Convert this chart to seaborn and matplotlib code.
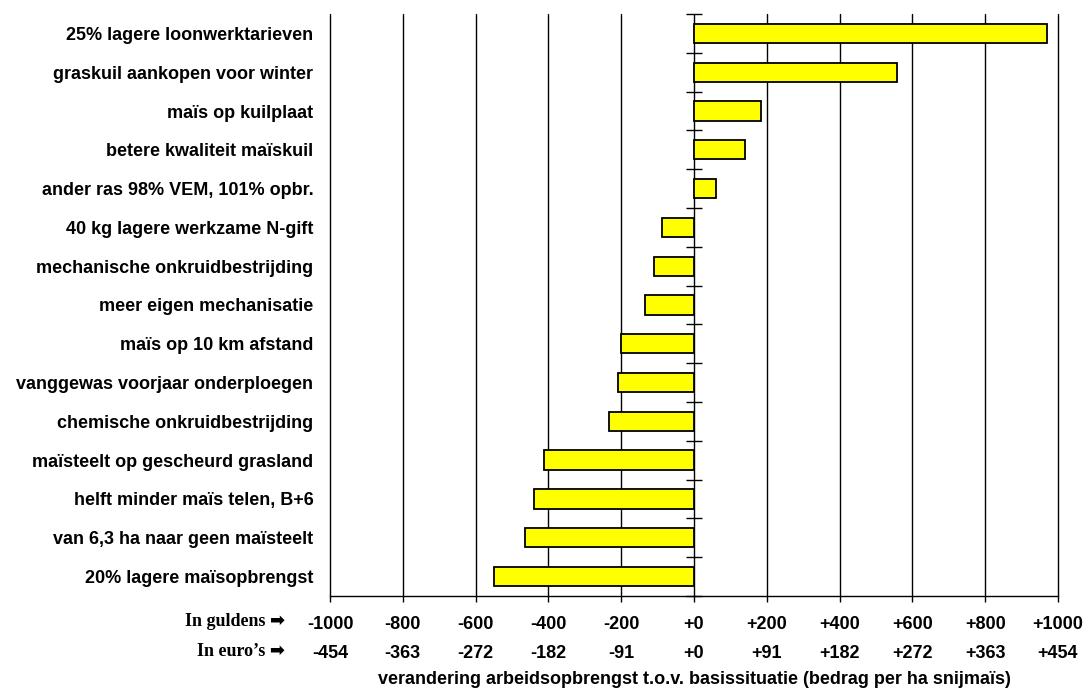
import numpy as np
import pandas as pd
import matplotlib
matplotlib.use("Agg")
import matplotlib.pyplot as plt
import seaborn as sns

# Scenario labels (top to bottom) and change in labour income, guilders per ha silage maize
categories = [
    "25% lagere loonwerktarieven",
    "graskuil aankopen voor winter",
    "maïs op kuilplaat",
    "betere kwaliteit maïskuil",
    "ander ras 98% VEM, 101% opbr.",
    "40 kg lagere werkzame N-gift",
    "mechanische onkruidbestrijding",
    "meer eigen mechanisatie",
    "maïs op 10 km afstand",
    "vanggewas voorjaar onderploegen",
    "chemische onkruidbestrijding",
    "maïsteelt op gescheurd grasland",
    "helft minder maïs telen, B+6",
    "van 6,3 ha naar geen maïsteelt",
    "20% lagere maïsopbrengst",
]
values = [970, 558, 184, 140, 60, -89, -109, -135, -200, -208, -234, -411, -440, -464, -549]

# Axis ticks: guilders with the euro equivalent underneath
guilder_ticks = [-1000, -800, -600, -400, -200, 0, 200, 400, 600, 800, 1000]
guilder_labels = ["-1000", "-800", "-600", "-400", "-200", "+0", "+200", "+400", "+600", "+800", "+1000"]
euro_labels = ["-454", "-363", "-272", "-182", "-91", "+0", "+91", "+182", "+272", "+363", "+454"]

df = pd.DataFrame({"scenario": categories, "verschil": values})

sns.set_theme(style="white")
plt.rcParams["font.family"] = ["Liberation Sans", "DejaVu Sans"]
plt.rcParams["text.color"] = "black"
plt.rcParams["xtick.color"] = "black"
plt.rcParams["ytick.color"] = "black"
plt.rcParams["axes.labelcolor"] = "black"

FS = 13

fig = plt.figure(figsize=(10.84, 6.95), dpi=100)
ax = fig.add_axes([330 / 1084, 1 - 596 / 695, (1058 - 330) / 1084, (596 - 14) / 695])

sns.barplot(data=df, x="verschil", y="scenario", orient="h", color="#FFFF00",
            saturation=1, width=0.5, edgecolor="black", linewidth=1.3, ax=ax, zorder=3)

ax.set_xlim(-1000, 1000)
ax.set_ylim(len(categories) - 0.5, -0.5)

# Vertical grid lines
ax.set_xticks(guilder_ticks)
ax.xaxis.grid(True, color="black", linewidth=1.0)
ax.yaxis.grid(False)
ax.set_axisbelow(True)
for gl in ax.get_xgridlines():
    gl.set_clip_on(False)

for side in ["top", "right", "left"]:
    ax.spines[side].set_visible(False)
ax.spines["bottom"].set_color("black")
ax.spines["bottom"].set_linewidth(1.0)

# Two-row tick labels: guilders above, euros below
ax.set_xticklabels([f"{g}\n{e}" for g, e in zip(guilder_labels, euro_labels)],
                   fontsize=FS, fontweight="bold", color="black")
for lab in ax.get_xticklabels():
    lab.set_linespacing(1.95)
ax.tick_params(axis="x", bottom=True, direction="out", length=4, width=1.0,
               color="black", pad=10.5)

ax.set_ylabel("")
ax.tick_params(axis="y", left=False, length=0, pad=12)
for lab in ax.get_yticklabels():
    lab.set_fontsize(FS)
    lab.set_fontweight("bold")
    lab.set_color("black")

ax.set_xlabel("verandering arbeidsopbrengst t.o.v. basissituatie (bedrag per ha snijmaïs)",
              fontsize=FS, fontweight="bold", labelpad=6, color="black")

# Zero axis with tick marks between the scenarios
zero_axis = ax.secondary_yaxis(0.5)
zero_axis.set_yticks(np.arange(-0.5, len(categories), 1.0))
zero_axis.set_yticklabels([])
zero_axis.tick_params(axis="y", direction="inout", length=12, width=1.0, color="black")
zero_axis.spines["left"].set_color("black")
zero_axis.spines["left"].set_linewidth(1.1)
for side in ["top", "right", "bottom"]:
    zero_axis.spines[side].set_visible(False)

# Row captions for the two currency lines
row_font = dict(family=["Liberation Serif", "DejaVu Sans"], fontweight="bold", fontsize=FS,
                ha="right", va="center", color="black")
fig.text(285 / 1084, 1 - 622 / 695, "In guldens \u27A1", **row_font)
fig.text(285 / 1084, 1 - 652 / 695, "In euro\u2019s \u27A1", **row_font)

fig.savefig("out.png", dpi=100, facecolor="white")
